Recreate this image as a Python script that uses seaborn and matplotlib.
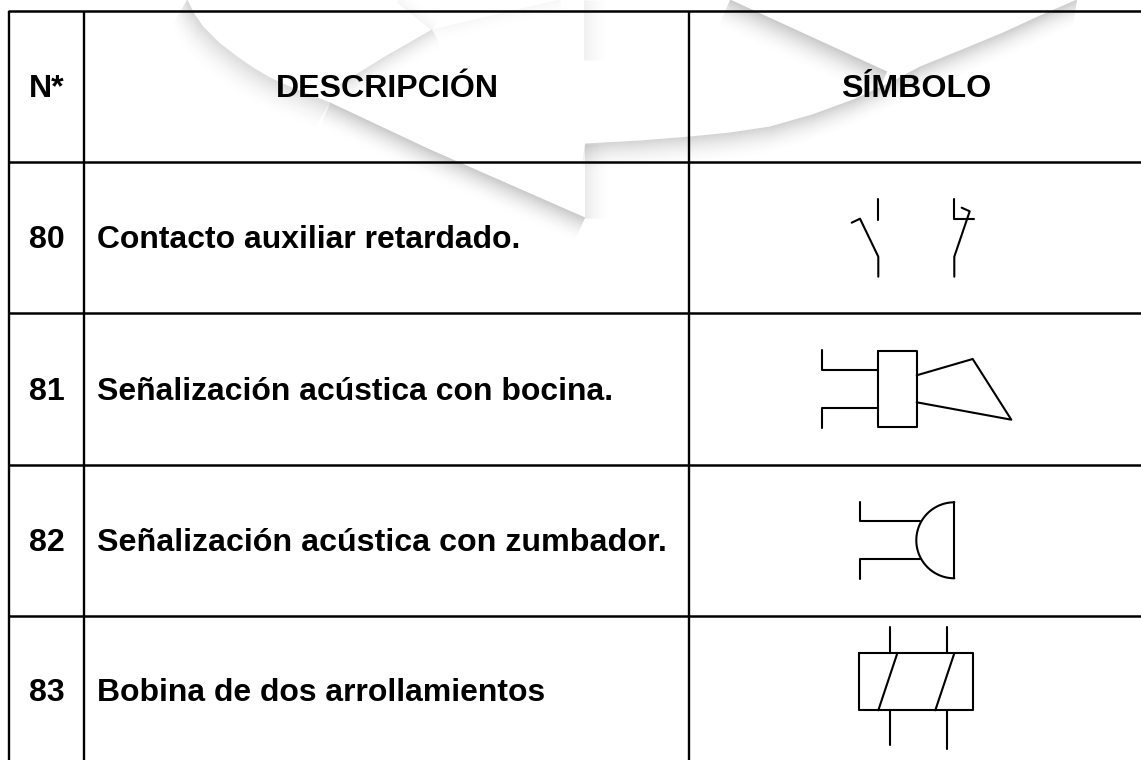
import numpy as np
import matplotlib
matplotlib.use('Agg')
import matplotlib.pyplot as plt
import seaborn as sns

headers = ['N*', 'DESCRIPCIÓN', 'SÍMBOLO']
numbers = ['80', '81', '82', '83']
descriptions = ['Contacto auxiliar retardado.', 'Señalización acústica con bocina.',
                'Señalización acústica con zumbador.', 'Bobina de dos arrollamientos']

# table rules, in pixels of the picture
row_lines = [11, 161.5, 313, 465, 615.5]
col_lines = [9, 84, 689]
header_x = [47, 387, 916]
header_base = 97
row_base = [248, 400, 551, 701]
desc_size = [22.95, 22.95, 23.2, 22.95]

# symbol strokes
contact_strokes = [
    [(878.3, 199.3), (878.3, 219.5)],
    [(851.7, 222.7), (860, 218.7), (878.3, 256.7), (878.3, 276.7)],
    [(954.3, 199.3), (954.3, 219), (973.7, 219)],
    [(961.7, 207.7), (969.7, 211.3), (954.3, 256.7), (954.3, 276.7)],
]
horn_strokes = [
    [(878.3, 351), (916.7, 351), (916.7, 427.3), (878.3, 427.3), (878.3, 351)],
    [(822, 350.3), (822, 370.3), (878.3, 370.3)],
    [(822, 428), (822, 408), (878.3, 408)],
    [(916.7, 375.3), (972.7, 359), (1011.3, 419.7), (916.7, 402.3)],
]
buzzer_strokes = [
    [(859.7, 501.7), (859.7, 521.3), (920, 521.3)],
    [(859.7, 579), (859.7, 559), (920, 559)],
    [(954.3, 502.3), (954.3, 578.3)],
]
coil_strokes = [
    [(859.3, 653.3), (973.3, 653.3), (973.3, 710.3), (859.3, 710.3), (859.3, 653.3)],
    [(890, 626.7), (890, 653.3)],
    [(946.7, 626.7), (946.7, 653.3)],
    [(890, 710.3), (890, 745.3)],
    [(946.7, 710.3), (946.7, 749.3)],
    [(897.3, 653.3), (878.3, 710.3)],
    [(954.3, 653.3), (935.3, 710.3)],
]

# watermark edges: points, shadow direction, darkest alpha, fade length
watermark = [
    ([(187, 0), (194, 14), (203, 27), (219, 43), (237, 57), (253, 68), (270, 78), (285, 85), (300, 91), (330, 103)],
     (-0.5, 0.85), 0.13, 34),
    ([(432, 30), (385, 57), (340, 85)], (0.5, 0.85), 0.12, 22),
    ([(330, 103), (430, 150), (585, 218)], (-0.4, 0.9), 0.2, 28),
    ([(585, 143.5), (585, 218)], (1, 0), 0.08, 28),
    ([(585, 144), (640, 141), (690, 137), (730, 133), (770, 127), (812, 115), (853, 100), (888, 84), (920, 67),
      (962, 50), (1003, 33), (1040, 16), (1077, 0)], (-0.15, 1), 0.16, 30),
    ([(730, 0), (887, 72)], (-0.4, 0.9), 0.2, 32),
    ([(584, 0), (584, 60)], (1, 0), 0.06, 28),
    ([(397, 2), (432, 30)], (0.6, -0.8), 0.04, 16),
    ([(432, 30), (560, 0)], (0.25, 1), 0.03, 16),
]


def draw_strokes(ax, strokes):
    for stroke in strokes:
        xs, ys = zip(*stroke)
        sns.lineplot(x=list(xs), y=list(ys), sort=False, estimator=None, color='black',
                     linewidth=1.5, ax=ax, zorder=4)


sns.set_theme(style='white')
plt.rcParams['font.family'] = ['Liberation Sans', 'DejaVu Sans']

fig = plt.figure(figsize=(11.41, 7.6), dpi=100)
ax = fig.add_axes([0, 0, 1, 1])
ax.set_xlim(0, 1141)
ax.set_ylim(760, 0)
ax.axis('off')

# soft shadows of the background logo
for points, direction, peak, fade in watermark:
    xs, ys = map(np.array, zip(*points))
    for k in range(fade):
        a = peak * (1 - k / fade) ** 2
        ax.plot(xs + direction[0] * k, ys + direction[1] * k, color='black', alpha=a,
                linewidth=0.75, solid_capstyle='butt', zorder=1)

ax.hlines(row_lines, col_lines[0] - 1, 1141, color='black', linewidth=1.8, zorder=3)
ax.vlines(col_lines, row_lines[0], 760, color='black', linewidth=1.7, zorder=3)

for label, x in zip(headers, header_x):
    ax.text(x, header_base, label, ha='center', va='baseline', fontsize=23.1, fontweight='bold',
            color='black', zorder=5)
for num, desc, y, size in zip(numbers, descriptions, row_base, desc_size):
    ax.text(47, y, num, ha='center', va='baseline', fontsize=23.1, fontweight='bold', color='black', zorder=5)
    ax.text(97, y, desc, ha='left', va='baseline', fontsize=size, fontweight='bold', color='black', zorder=5)

draw_strokes(ax, contact_strokes)
draw_strokes(ax, horn_strokes)
draw_strokes(ax, buzzer_strokes)
draw_strokes(ax, coil_strokes)

# zumbador dome
angle = np.radians(np.linspace(90, 270, 60))
sns.lineplot(x=954.3 + 38 * np.cos(angle), y=540.3 + 38 * np.sin(angle), sort=False, estimator=None,
             color='black', linewidth=1.5, ax=ax, zorder=4)

ax.set_xlim(0, 1141)
ax.set_ylim(760, 0)
fig.savefig('out.png', dpi=100)
